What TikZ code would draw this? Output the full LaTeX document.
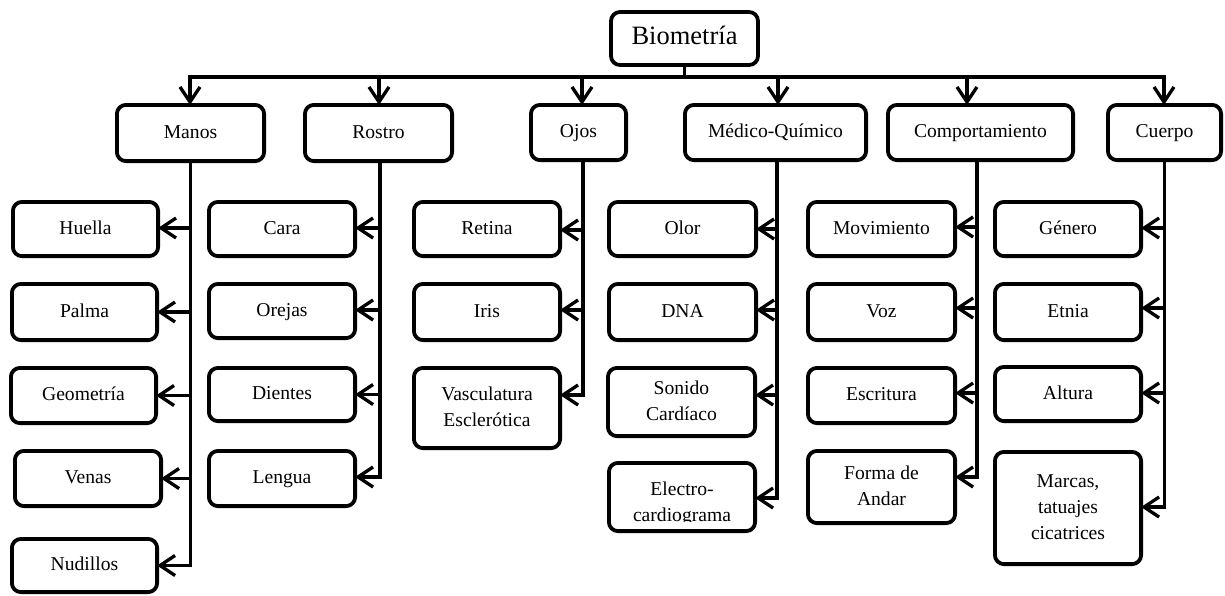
\documentclass[tikz,border=0pt]{standalone}
\usepackage{fontspec}
\setmainfont{Liberation Serif}
\usetikzlibrary{arrows.meta}

\tikzset{
  box/.style={draw, line width=3.8pt, rounded corners=9pt, align=center,
    inner sep=0pt, outer sep=0pt, font=\fontsize{19.6}{26}\selectfont},
  conn/.style={line width=3.3pt, -{Straight Barb[length=15pt,width=20pt]}},
}

% \bx{name}{x1}{y1}{x2}{y2}{text}: rounded box given by its outer edges
\newcommand\bx[6]{%
  \node[box, minimum width={#4-#2-3.8}, minimum height={#5-#3-3.8}]
    (#1) at ({(#2+#4)/2},{(#3+#5)/2}) {\strut#6\strut};}
% \link{parent}{xshift}{leaf}{yshift}: elbow connector from a category to an item
\newcommand\link[4]{%
  \draw[conn] ([xshift=#2pt]#1.south) |- ([yshift=#4pt]#3.east);}
% \toplink{child}{xshift}: connector from the root bus down to a category
\newcommand\toplink[2]{%
  \draw[conn] (bio.south) -- ++(0,12) -| ([xshift=#2pt]#1.north);}

\begin{document}
\begin{tikzpicture}[x=1pt, y=-1pt]
\useasboundingbox (0,0) rectangle (1225,595);

% root
\node[box, minimum width=147, minimum height=53, font=\fontsize{26.5}{30}\selectfont]
  (bio) at (684.5,38.5) {\strut Biometría};

% categories
\bx{manos}{115}{103}{266}{163}{Manos}
\bx{rostro}{303}{103}{454}{163}{Rostro}
\bx{ojos}{529}{103}{628}{162}{Ojos}
\bx{medico}{683}{103}{868}{162}{Médico-Químico}
\bx{comp}{886}{103}{1075}{162}{Comportamiento}
\bx{cuerpo}{1106}{103}{1223}{162}{Cuerpo}

% Manos
\bx{huella}{11}{200}{160}{258}{Huella}
\bx{palma}{10}{282}{159}{342}{Palma}
\bx{geom}{9}{366}{158}{425}{Geometría}
\bx{venas}{13}{449}{163}{508}{Venas}
\bx{nudillos}{10}{537}{159}{594}{Nudillos}

% Rostro
\bx{cara}{207}{200}{357}{258}{Cara}
\bx{orejas}{207}{282}{357}{340}{Orejas}
\bx{dientes}{207}{366}{357}{423}{Dientes}
\bx{lengua}{207}{449}{357}{508}{Lengua}

% Ojos
\bx{retina}{412}{200}{562}{258}{Retina}
\bx{iris}{412}{282}{562}{342}{Iris}
\bx{vasc}{412}{366}{562}{450}{Vasculatura\\Esclerótica}

% Médico-Químico
\bx{olor}{607}{200}{758}{258}{Olor}
\bx{dna}{607}{282}{758}{342}{DNA}
\bx{sonido}{606}{366}{757}{438}{Sonido\\Cardíaco}
\node[box, minimum width=146.2, minimum height=68.2] (elec) at (682,497) {};
\begin{scope}
  \clip (607,461) rectangle (757,521);
  \node[align=center, inner sep=0pt, font=\fontsize{19.6}{26}\selectfont]
    (electxt) at (682,503) {\strut Electro-\\cardiograma\strut};
\end{scope}

% Comportamiento
\bx{movim}{806}{200}{957}{258}{Movimiento}
\bx{voz}{806}{282}{957}{342}{Voz}
\bx{escrit}{806}{366}{957}{425}{Escritura}
\bx{forma}{806}{449}{957}{525}{Forma de\\Andar}

% Cuerpo
\bx{genero}{993}{200}{1143}{258}{Género}
\bx{etnia}{993}{282}{1143}{342}{Etnia}
\bx{altura}{993}{365}{1143}{423}{Altura}
\bx{marcas}{993}{450}{1143}{566}{Marcas,\\tatuajes\\cicatrices}

% root to categories
\toplink{manos}{-0.5}
\toplink{rostro}{0.5}
\toplink{ojos}{3.5}
\toplink{medico}{2.5}
\toplink{comp}{-13.5}
\toplink{cuerpo}{-0.5}

% categories to items
\link{manos}{0}{huella}{1}
\link{manos}{0}{palma}{0}
\link{manos}{0}{geom}{0}
\link{manos}{0}{venas}{0}
\link{manos}{0}{nudillos}{0}

\link{rostro}{1.5}{cara}{1}
\link{rostro}{1.5}{orejas}{1}
\link{rostro}{1.5}{dientes}{0}
\link{rostro}{1.5}{lengua}{1.5}

\link{ojos}{4.5}{retina}{-1}
\link{ojos}{4.5}{iris}{2}
\link{ojos}{4.5}{vasc}{13}

\link{medico}{1.5}{olor}{0}
\link{medico}{1.5}{dna}{2}
\link{medico}{1.5}{sonido}{7}
\link{medico}{1.5}{elec}{-1}

\link{comp}{-3.5}{movim}{2}
\link{comp}{-3.5}{voz}{4}
\link{comp}{-3.5}{escrit}{2.5}
\link{comp}{-3.5}{forma}{10}

\link{cuerpo}{0}{genero}{1}
\link{cuerpo}{0}{etnia}{4}
\link{cuerpo}{0}{altura}{1}
\link{cuerpo}{0}{marcas}{1}
\end{tikzpicture}
\end{document}
